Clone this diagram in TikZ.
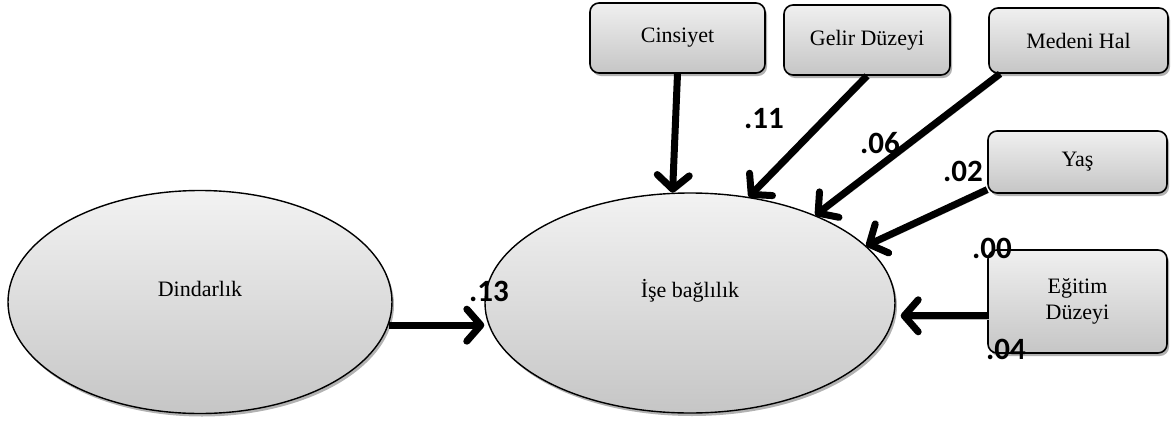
\documentclass[tikz,border=0pt]{standalone}
\usepackage{fontspec}
\setmainfont{Liberation Serif}
\newfontfamily\coeffont{Carlito}
\usetikzlibrary{shapes.geometric,shadows,arrows.meta}
\tikzstyle{arrow} = [line width=7pt,-{Straight Barb[round,length=14pt,width=32pt]},
  preaction={draw=gray!55,transform canvas={shift={(2pt,-3pt)}}}]
\tikzstyle{latent} = [ellipse,draw,line width=1.4pt,inner sep=0pt,top color=gray!10,bottom color=gray!45,
  drop shadow={shadow xshift=2pt,shadow yshift=-3pt,fill=gray!60,opacity=1},
  font=\fontsize{22}{26}\selectfont,text height=16pt,text depth=28pt]
\tikzstyle{observed} = [rectangle,draw,line width=1.6pt,rounded corners=9pt,inner sep=2pt,
  top color=gray!12,bottom color=gray!45,align=center,
  drop shadow={shadow xshift=2pt,shadow yshift=-3pt,fill=gray!60,opacity=1},
  font=\fontsize{22}{26}\selectfont]
\tikzstyle{coef} = [inner sep=0pt,font=\coeffont\bfseries\fontsize{31}{34}\selectfont]

\begin{document}
\begin{tikzpicture}[x=1pt,y=-1pt]
    \useasboundingbox (0,0) rectangle (1171,421);

    \node (din) [latent, minimum width=384pt, minimum height=223pt] at (200,302) {Dindarlık};
    \node (ise) [latent, minimum width=410pt, minimum height=220pt] at (690,303) {İşe bağlılık};

    \node (cins) [observed, minimum width=175pt, minimum height=70pt] at (677.5,38) {Cinsiyet};
    \node (gel) [observed, minimum width=166pt, minimum height=70pt] at (867,40) {Gelir Düzeyi};
    \node (med) [observed, minimum width=179pt, minimum height=65pt] at (1078.5,40.5) {Medeni Hal};
    \node (yas) [observed, minimum width=179pt, minimum height=62pt] at (1077.5,162) {Yaş};
    \node (egt) [observed, minimum width=179pt, minimum height=103pt] at (1077.5,301.5) {Eğitim\\Düzeyi};

    % paths into the outcome
    \draw [arrow] (din.353) -- (din.353 -| ise.west);
    \draw [arrow] (cins.south) -- (ise.99);
    \draw [arrow] (gel.south) -- (ise.61);
    \draw [arrow] (med.203) -- (ise.35);
    \draw [arrow] (yas.197) -- (ise.18);
    \draw [arrow, shorten >=5pt] (egt.189) -- (egt.189 -| ise.east);

    % coefficients
    \node (c13) [coef] at (489,291) {.13};
    \node (c11) [coef] at (764,119) {.11};
    \node (c06) [coef] at (880,143) {.06};
    \node (c02) [coef] at (963,171) {.02};
    \node (c00) [coef] at (992,248) {.00};
    \node (c04) [coef] at (1006,349) {.04};
\end{tikzpicture}
\end{document}
